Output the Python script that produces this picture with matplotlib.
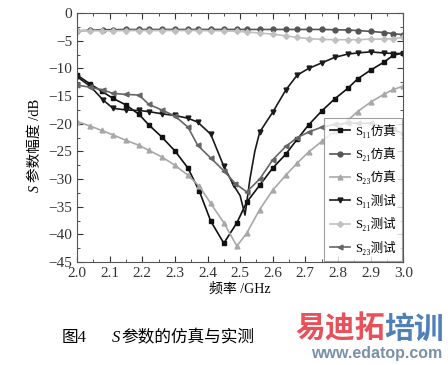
import matplotlib
matplotlib.use('Agg')
from matplotlib import pyplot as plt
from matplotlib.ticker import MultipleLocator

# S11 simulated (black squares)
s11_sim_f = [2.0, 2.04, 2.075, 2.11, 2.15, 2.19, 2.22, 2.26, 2.30, 2.34, 2.375, 2.41, 2.45, 2.49,
             2.52, 2.56, 2.60, 2.64, 2.675, 2.71, 2.75, 2.79, 2.83, 2.86, 2.90, 2.94, 2.97, 3.0]
s11_sim = [-11.2, -12.8, -14.1, -15.4, -16.6, -18.3, -20.2, -22.4, -24.9, -28.0, -32.2, -37.6, -41.6, -37.9,
           -34.2, -31.1, -28.0, -25.5, -22.8, -20.2, -17.7, -15.5, -13.6, -11.9, -10.3, -8.9, -7.6, -7.2]

# S21 simulated (dark grey circles)
s21_sim_f = [2.0, 2.04, 2.08, 2.11, 2.15, 2.19, 2.22, 2.26, 2.30, 2.34, 2.37, 2.41, 2.45, 2.49,
             2.52, 2.56, 2.60, 2.64, 2.675, 2.71, 2.75, 2.79, 2.83, 2.86, 2.90, 2.94, 2.97, 3.0]
s21_sim = [-3.2, -3.1, -3.0, -3.0, -2.95, -2.95, -2.95, -2.95, -2.95, -2.95, -2.95, -2.95, -2.95, -2.95,
           -2.95, -2.95, -2.95, -2.95, -2.95, -2.95, -2.95, -3.0, -3.05, -3.15, -3.3, -3.5, -3.7, -3.9]

# S23 simulated (light grey up triangles)
s23_sim_f = s11_sim_f
s23_sim = [-19.6, -20.4, -21.2, -22.0, -23.0, -23.9, -24.8, -26.0, -27.5, -29.3, -31.3, -34.4, -37.9, -42.1,
           -39.8, -35.5, -32.0, -29.3, -27.1, -25.1, -23.2, -21.3, -19.4, -17.8, -16.1, -14.7, -13.8, -13.2]

# S11 measured (black down triangles)
s11_meas_f = [2.0, 2.04, 2.08, 2.11, 2.15, 2.19, 2.22, 2.26, 2.30, 2.34, 2.37, 2.41, 2.45, 2.48, 2.50,
              2.515, 2.53, 2.545, 2.56, 2.60, 2.64, 2.675, 2.71, 2.75, 2.79, 2.83, 2.86, 2.90, 2.94, 2.97, 3.0]
s11_meas = [-11.5, -13.2, -15.7, -17.2, -17.5, -17.6, -17.8, -18.2, -18.5, -19.0, -19.7, -21.9, -27.7, -31.1, -33.0,
            -36.5, -30.0, -25.0, -21.5, -17.9, -13.9, -11.2, -10.0, -9.0, -8.0, -7.4, -7.2, -7.0, -7.2, -7.3, -7.3]
s11_meas_marks = [0, 1, 2, 3, 4, 5, 6, 7, 8, 9, 10, 11, 12, 13, 18, 19, 20, 21, 22, 23, 24, 25, 26, 27, 28, 29, 30]

# S21 measured (light grey diamonds)
s21_meas_f = s11_sim_f
s21_meas = [-3.2, -3.2, -3.2, -3.2, -3.15, -3.15, -3.15, -3.15, -3.15, -3.15, -3.15, -3.2, -3.2, -3.3,
            -3.4, -3.6, -3.8, -4.1, -4.4, -4.6, -4.75, -4.8, -4.8, -4.8, -4.7, -4.7, -4.6, -4.4]

# S23 measured (dark grey left triangles)
s23_meas_f = [2.0, 2.04, 2.08, 2.11, 2.15, 2.19, 2.22, 2.26, 2.30, 2.34, 2.37, 2.41, 2.45, 2.485,
              2.52, 2.56, 2.60, 2.64, 2.675, 2.71, 2.75, 2.79, 2.83, 2.86, 2.90, 2.94, 2.97, 3.0]
s23_meas = [-13.0, -13.4, -13.9, -14.5, -14.7, -14.8, -16.5, -17.5, -18.6, -20.6, -23.9, -26.2, -28.5, -30.8,
            -32.3, -30.0, -26.5, -24.1, -22.5, -21.5, -20.6, -20.1, -19.9, -19.9, -19.9, -20.6, -21.0, -21.8]

x_ticks = [2.0, 2.1, 2.2, 2.3, 2.4, 2.5, 2.6, 2.7, 2.8, 2.9, 3.0]
y_ticks = [0, -5, -10, -15, -20, -25, -30, -35, -40, -45]
labels = ['S₁₁仿真', 'S₂₁仿真', 'S₂₃仿真', 'S₁₁测试', 'S₂₁测试', 'S₂₃测试']

plt.rcParams['font.family'] = ['Liberation Serif', 'DejaVu Serif', 'Noto Sans CJK SC']

fig = plt.figure(figsize=(4.48, 3.65), dpi=100)
ax = fig.add_axes([0.172, 0.282, 0.728, 0.682])

ms = 3.5
ax.plot(s11_sim_f, s11_sim, c='#111111', lw=1.2, marker='s', ms=ms, label=labels[0])
ax.plot(s21_sim_f, s21_sim, c='#555555', lw=1.2, marker='o', ms=ms, label=labels[1])
ax.plot(s23_sim_f, s23_sim, c='#a8a8a8', lw=1.2, marker='^', ms=ms, label=labels[2])
ax.plot(s11_meas_f, s11_meas, c='#1a1a1a', lw=1.2, marker='v', ms=ms, markevery=s11_meas_marks,
        label=labels[3])
ax.plot(s21_meas_f, s21_meas, c='#c0c0c0', lw=1.2, marker='D', ms=ms - 0.5, label=labels[4])
ax.plot(s23_meas_f, s23_meas, c='#666666', lw=1.2, marker='<', ms=ms, label=labels[5])

ax.set_xlim(2.0, 3.0)
ax.set_ylim(-45, 0)
ax.set_xticks(x_ticks)
ax.set_xticklabels(['%.1f' % v for v in x_ticks])
ax.set_yticks(y_ticks)
ax.xaxis.set_minor_locator(MultipleLocator(0.05))
ax.yaxis.set_minor_locator(MultipleLocator(2.5))
ax.tick_params(axis='both', which='both', direction='in', top=True, right=True, labelsize=11, colors='#333333')
ax.tick_params(which='major', length=4)
ax.tick_params(which='minor', length=2)
for sp in ax.spines.values():
    sp.set_color('#555555')

ax.set_xlabel('频率 /GHz', fontsize=10, labelpad=2)

# y label: italic S then the rest, stacked upward
fig.text(0.078, 0.474, 'S', fontsize=10, style='italic', rotation=90, ha='center', va='bottom')
fig.text(0.078, 0.500, '参数幅度 /dB', fontsize=10.5, rotation=90, ha='center', va='bottom')

leg = ax.legend(loc='lower right', fontsize=9, frameon=True, fancybox=False, handlelength=1.6,
                labelspacing=0.75, borderaxespad=0.1, borderpad=0.5, handletextpad=0.4)
leg.get_frame().set_edgecolor('#888888')
leg.get_frame().set_linewidth(0.8)

# caption
fig.text(0.138, 0.074, '图4', fontsize=12, ha='left', va='center')
fig.text(0.250, 0.074, 'S', fontsize=12, style='italic', ha='left', va='center')
fig.text(0.272, 0.074, '参数的仿真与实测', fontsize=12, ha='left', va='center')

# watermark
fig.text(0.660, 0.100, '易迪拓', fontsize=21.5, fontweight='bold', color='#e8505a', ha='left', va='center',
         family='Noto Sans CJK SC')
fig.text(0.858, 0.100, '培训', fontsize=21.5, fontweight='bold', color='#5080b8', ha='left', va='center',
         family='Noto Sans CJK SC')
fig.text(0.988, 0.012, 'www.edatop.com', fontsize=11.5, fontweight='bold', color='#7890a8', ha='right',
         va='bottom', family='Liberation Sans')

fig.savefig('out.png', dpi=100)
